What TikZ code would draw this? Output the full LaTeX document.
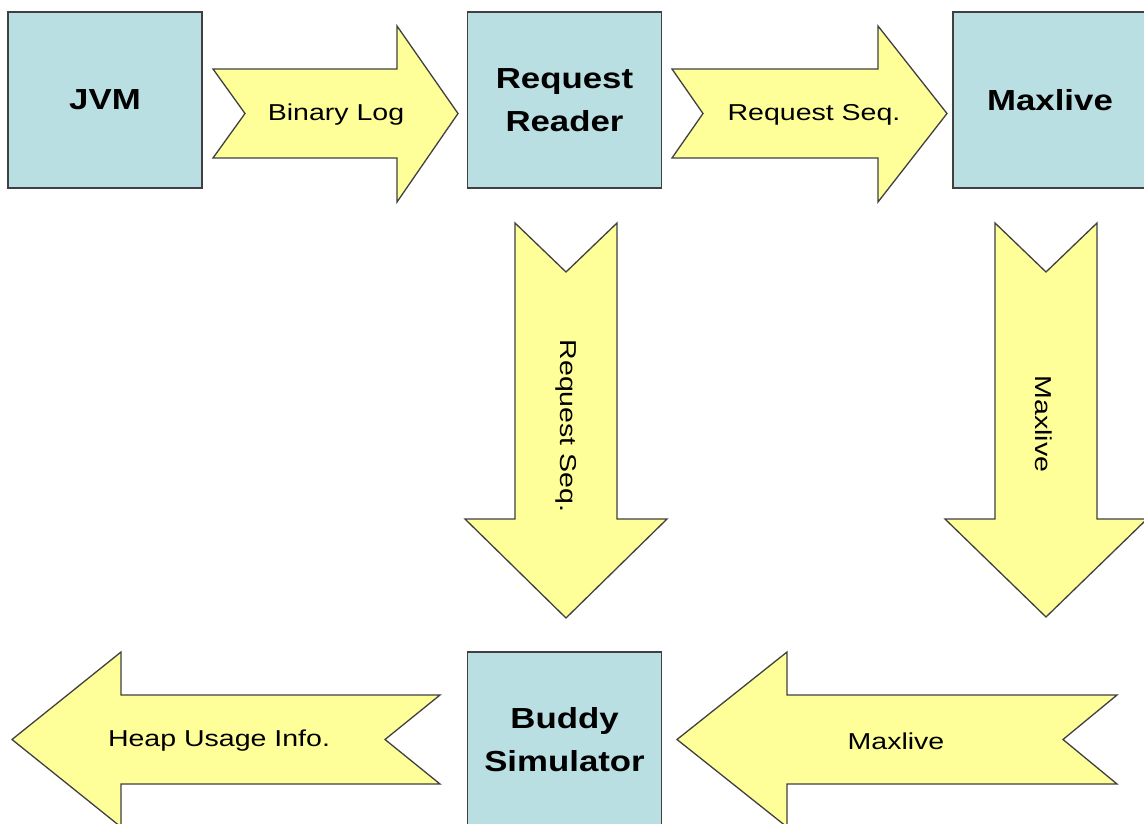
\documentclass[tikz,border=0pt]{standalone}
\usepackage{fontspec}
\usepackage{graphicx}
\setmainfont{Liberation Sans}
\definecolor{boxfill}{RGB}{186,223,226}
\definecolor{arrfill}{RGB}{255,255,153}
\definecolor{edgecol}{RGB}{64,64,64}
\newcommand\widetxt[1]{\scalebox{1.2}[1]{#1}}
\newcommand\widerarr[1]{\scalebox{1.24}[1]{#1}}
\tikzset{
  procbox/.style={draw=edgecol, fill=boxfill, line width=1.3pt, minimum width=194pt, minimum height=176pt, inner sep=0pt},
  blockarrow/.style={draw=edgecol, fill=arrfill, line width=1.3pt, line join=miter},
  boxlabel/.style={font=\fontsize{29}{43}\selectfont\bfseries, align=center},
  arrlabel/.style={font=\fontsize{23}{27}\selectfont, inner sep=0pt},
}
\begin{document}
\begin{tikzpicture}[x=1pt,y=-1pt]
\clip (0,0) rectangle (1144,824);
\fill[white] (0,0) rectangle (1144,824);

% process boxes
\node[procbox] (jvm) at (105,100) {};
\node[boxlabel] (jvmlabel) at (jvm.center) {\widetxt{JVM}};
\node[procbox] (reader) at (564.5,100) {};
\node[boxlabel] (readerlabel) at (reader.center) {\widetxt{Request}\\\widetxt{Reader}};
\node[procbox] (maxlive) at (1050,100) {};
\node[boxlabel] (maxlivelabel) at (maxlive.center) {\widetxt{Maxlive}};
\node[procbox] (buddy) at (564.5,740) {};
\node[boxlabel] (buddylabel) at (buddy.center) {\widetxt{Buddy}\\\widetxt{Simulator}};

% block arrows
\draw[blockarrow] (213,69) -- (397,69) -- (397,26) -- (458,113.5) -- (397,202) -- (397,158) -- (213,158) -- (245,113.5) -- cycle;
\node[arrlabel] (binlog) at (336,115) {\widerarr{Binary Log}};

\draw[blockarrow] (672,69) -- (878,69) -- (878,26) -- (947,113.5) -- (878,202) -- (878,158) -- (672,158) -- (703,113.5) -- cycle;
\node[arrlabel] (reqseqA) at (814,115) {\widerarr{Request Seq.}};

\draw[blockarrow] (515,223) -- (566,272) -- (617,223) -- (617,519) -- (667,519) -- (566,618) -- (465,519) -- (515,519) -- cycle;
\node[arrlabel, rotate=-90] (reqseqB) at (566,426) {\widerarr{Request Seq.}};

\draw[blockarrow] (995,223) -- (1046,272) -- (1097,223) -- (1097,519) -- (1147,519) -- (1046,617) -- (945,519) -- (995,519) -- cycle;
\node[arrlabel, rotate=-90] (maxliveB) at (1044,424) {\widerarr{Maxlive}};

\draw[blockarrow] (1117,695) -- (787,695) -- (787,652) -- (677,739.5) -- (787,827) -- (787,784) -- (1117,784) -- (1063,739.5) -- cycle;
\node[arrlabel] (maxliveC) at (896,741) {\widerarr{Maxlive}};

\draw[blockarrow] (440,695) -- (121,695) -- (121,652) -- (12,739.5) -- (121,827) -- (121,784) -- (440,784) -- (385,739.5) -- cycle;
\node[arrlabel] (heap) at (219,741) {\widerarr{Heap Usage Info.}};
\end{tikzpicture}
\end{document}
